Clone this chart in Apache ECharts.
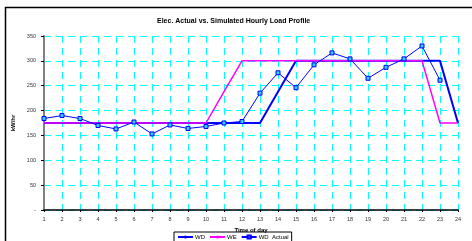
<!DOCTYPE html>
<html>
<head>
<meta charset="utf-8">
<script src="https://cdn.jsdelivr.net/npm/echarts@6/dist/echarts.min.js"></script>
</head>
<body style="margin:0">
<div id="container" style="width:472px;height:241px"></div>
<script>
var hours = ['1','2','3','4','5','6','7','8','9','10','11','12','13','14','15','16','17','18','19','20','21','22','23','24'];
var wd = [175,175,175,175,175,175,175,175,175,175,175,175,175,238,300,300,300,300,300,300,300,300,300,175];
var we = [175,175,175,175,175,175,175,175,175,175,238,300,300,300,300,300,300,300,300,300,300,300,175,175];
var wdActual = [184,190,184,170,163,177,153,171,164,168,175,178,235,276,246,292,316,304,265,287,304,330,261,null];

var chart = echarts.init(document.getElementById('container'));
var font = 'Liberation Sans, Arial, sans-serif';
var gridDash = { color: '#00ffff', width: 1, type: [7, 5] };

chart.setOption({
  animation: false,
  textStyle: { fontFamily: font },
  title: {
    text: 'Elec. Actual vs. Simulated Hourly Load Profile',
    left: 152, top: 13,
    textStyle: { fontSize: 7, fontWeight: 'bold', color: '#000', fontFamily: font }
  },
  graphic: [{
    type: 'rect', silent: true,
    shape: { x: 5.5, y: 7.5, width: 480, height: 250 },
    style: { fill: 'none', stroke: '#000', lineWidth: 1.5 }
  }],
  legend: {
    left: 174, top: 232,
    padding: [2, 3, 4, 3],
    itemGap: 4, itemWidth: 15, itemHeight: 4,
    borderColor: '#000', borderWidth: 1,
    textStyle: { fontSize: 6, color: '#000', fontFamily: font, padding: [0, 0, 0, -3] },
    data: ['WD', 'WE', 'WD  Actual']
  },
  grid: { left: 44, right: 14, top: 36, bottom: 31 },
  xAxis: {
    type: 'category', data: hours, boundaryGap: false,
    name: 'Time of day', nameLocation: 'middle', nameGap: 14,
    nameTextStyle: { fontSize: 6, fontWeight: 'bold', color: '#000' },
    axisLine: { lineStyle: { color: '#000', width: 1.5 } },
    axisTick: { length: 2, lineStyle: { color: '#000' } },
    axisLabel: { fontSize: 5.5, color: '#333', margin: 6 },
    splitLine: { show: true, lineStyle: gridDash }
  },
  yAxis: {
    type: 'value', min: 0, max: 350, interval: 50,
    name: 'kW/hr', nameLocation: 'middle', nameGap: 28, nameRotate: 90,
    nameTextStyle: { fontSize: 6, fontWeight: 'bold', color: '#000' },
    axisLine: { show: true, lineStyle: { color: '#808080', width: 2 } },
    axisTick: { show: true, length: 3, lineStyle: { color: '#000' } },
    axisLabel: {
      fontSize: 5.5, color: '#333', margin: 8,
      formatter: function (v) { return v === 0 ? '-' : v; }
    },
    splitLine: { show: true, lineStyle: gridDash }
  },
  series: [
    {
      name: 'WD', type: 'line', data: wd, showSymbol: false, symbol: 'none',
      lineStyle: { color: '#0000ff', width: 2 }, itemStyle: { color: '#0000ff' }, z: 2
    },
    {
      name: 'WE', type: 'line', data: we, showSymbol: false, symbol: 'none',
      lineStyle: { color: '#ff00ff', width: 1.5 }, itemStyle: { color: '#ff00ff' }, z: 3
    },
    {
      name: 'WD  Actual', type: 'line', data: wdActual, symbol: 'rect', symbolSize: 4,
      lineStyle: { color: '#0000ff', width: 1 },
      itemStyle: { color: '#33ccff', borderColor: '#0000ff', borderWidth: 1 }, z: 4
    }
  ]
});
</script>
</body>
</html>
